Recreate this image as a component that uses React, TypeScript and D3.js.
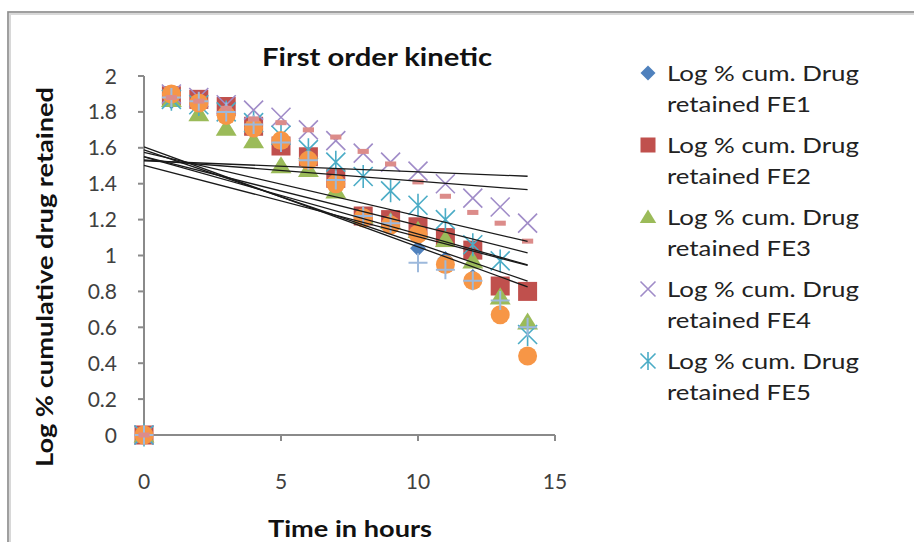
import React, { useEffect, useRef } from 'react';
import * as d3 from 'd3';

// time points (hours)
const hours = [0, 1, 2, 3, 4, 5, 6, 7, 8, 9, 10, 11, 12, 13, 14];

// log % cumulative drug retained
const fe1 = [0, 1.86, 1.85, 1.81, 1.72, 1.62, 1.53, 1.42, 1.22, 1.18, 1.04, 0.98, 0.88, 0.82, 0.8];
const fe2 = [0, 1.89, 1.87, 1.83, 1.72, 1.61, 1.55, 1.43, 1.22, 1.2, 1.16, 1.1, 1.03, 0.83, 0.8];
const fe3 = [0, 1.87, 1.79, 1.71, 1.64, 1.5, 1.48, 1.36, 1.22, 1.19, 1.14, 1.09, 0.97, 0.77, 0.63];
const fe4 = [0, 1.9, 1.88, 1.84, 1.81, 1.77, 1.7, 1.64, 1.57, 1.52, 1.47, 1.4, 1.32, 1.27, 1.18];
const fe5 = [0, 1.87, 1.84, 1.8, 1.74, 1.67, 1.59, 1.52, 1.44, 1.36, 1.28, 1.2, 1.06, 0.97, 0.56];
const fe6 = [0, 1.9, 1.85, 1.78, 1.71, 1.64, 1.53, 1.4, 1.21, 1.17, 1.12, 0.95, 0.86, 0.67, 0.44];
const fe7 = [0, 1.88, 1.86, 1.8, 1.73, 1.63, 1.53, 1.42, 1.22, 1.18, 0.96, 0.92, 0.86, 0.75, 0.6];
const fe8 = [0, 1.88, 1.86, 1.82, 1.76, 1.74, 1.7, 1.66, 1.58, 1.51, 1.41, 1.33, 1.24, 1.18, 1.08];

const seriesNames = ['FE1', 'FE2', 'FE3', 'FE4', 'FE5', 'FE6', 'FE7', 'FE8'];
const seriesValues = [fe1, fe2, fe3, fe4, fe5, fe6, fe7, fe8];
const seriesColors = ['#4F81BD', '#C0504D', '#9BBB59', '#A08CC8', '#4BACC6', '#F79646', '#9DB9DC', '#DC8C8A'];
const seriesMarkers = ['diamond', 'square', 'triangle', 'x', 'star', 'circle', 'plus', 'dash'];
const legendShown = 5; // legend box is cut off after FE5

const xTicks = [0, 5, 10, 15];
const yTicks = [0, 0.2, 0.4, 0.6, 0.8, 1, 1.2, 1.4, 1.6, 1.8, 2];

const FONT = 'Lato, "Open Sans", sans-serif';

// least squares line, the way Excel's linear trendline does it
const linearFit = (xs, ys) => {
    const mx = d3.mean(xs), my = d3.mean(ys);
    let num = 0, den = 0;
    xs.forEach((x, i) => {
        num += (x - mx) * (ys[i] - my);
        den += (x - mx) * (x - mx);
    });
    const slope = num / den;
    return { slope, intercept: my - slope * mx };
};

const drawMarker = (g, kind, color, s) => {
    // s = half size of the marker
    if (kind === 'diamond') {
        g.append('path').attr('d', `M0,${-s}L${s},0L0,${s}L${-s},0Z`).attr('fill', color);
    } else if (kind === 'square') {
        g.append('rect').attr('x', -s).attr('y', -s).attr('width', 2 * s).attr('height', 2 * s).attr('fill', color);
    } else if (kind === 'triangle') {
        g.append('path').attr('d', `M0,${-s}L${s * 1.1},${s * 0.8}L${-s * 1.1},${s * 0.8}Z`).attr('fill', color);
    } else if (kind === 'circle') {
        g.append('circle').attr('r', s).attr('fill', color);
    } else if (kind === 'x') {
        g.append('path').attr('d', `M${-s},${-s}L${s},${s}M${s},${-s}L${-s},${s}`)
            .attr('stroke', color).attr('stroke-width', 1.6).attr('fill', 'none');
    } else if (kind === 'star') {
        g.append('path').attr('d', `M${-s},${-s}L${s},${s}M${s},${-s}L${-s},${s}M0,${-s * 1.2}L0,${s * 1.2}`)
            .attr('stroke', color).attr('stroke-width', 1.6).attr('fill', 'none');
    } else if (kind === 'plus') {
        g.append('path').attr('d', `M${-s},0L${s},0M0,${-s}L0,${s}`)
            .attr('stroke', color).attr('stroke-width', 2).attr('fill', 'none');
    } else if (kind === 'dash') {
        g.append('rect').attr('x', -s * 0.7).attr('y', -2.5).attr('width', s * 1.4).attr('height', 5).attr('fill', color);
    }
};

const App = () => {
    const svgRef = useRef(null);

    useEffect(() => {
        const svg = d3.select(svgRef.current);
        svg.selectAll('*').remove();

        const x = d3.scaleLinear().domain([0, 15]).range([144, 555]);
        const y = d3.scaleLinear().domain([0, 2]).range([435, 76]);

        // chart frame
        svg.append('rect').attr('x', 9).attr('y', 13).attr('width', 940).attr('height', 560)
            .attr('fill', 'none').attr('stroke', '#d8d8d8').attr('stroke-width', 4);
        svg.append('rect').attr('x', 8).attr('y', 12).attr('width', 940).attr('height', 560)
            .attr('fill', 'none').attr('stroke', '#8c8c8c').attr('stroke-width', 1.5);

        // axes
        const axisColor = '#8a8a8a';
        svg.append('line').attr('x1', x(0)).attr('x2', x(0)).attr('y1', y(2)).attr('y2', y(0))
            .attr('stroke', axisColor).attr('stroke-width', 2);
        svg.append('line').attr('x1', x(0)).attr('x2', x(15)).attr('y1', y(0)).attr('y2', y(0))
            .attr('stroke', axisColor).attr('stroke-width', 2);

        yTicks.forEach(t => {
            svg.append('line').attr('x1', x(0) - 6).attr('x2', x(0)).attr('y1', y(t)).attr('y2', y(t))
                .attr('stroke', axisColor).attr('stroke-width', 2);
            svg.append('text').attr('x', 117).attr('y', y(t)).attr('dy', '0.36em')
                .attr('text-anchor', 'end').attr('font-family', FONT).attr('font-size', 21)
                .attr('fill', '#404040').text(t);
        });
        xTicks.forEach(t => {
            svg.append('line').attr('x1', x(t)).attr('x2', x(t)).attr('y1', y(0)).attr('y2', y(0) + 6)
                .attr('stroke', axisColor).attr('stroke-width', 2);
            svg.append('text').attr('x', x(t)).attr('y', 481).attr('dy', '0.36em')
                .attr('text-anchor', 'middle').attr('font-family', FONT).attr('font-size', 21)
                .attr('fill', '#404040').text(t);
        });

        // markers, first series at the bottom
        seriesValues.forEach((vals, si) => {
            const g = svg.append('g');
            vals.forEach((v, i) => {
                const m = g.append('g').attr('transform', `translate(${x(hours[i])},${y(v)})`);
                const half = seriesMarkers[si] === 'dash' ? 8 : seriesMarkers[si] === 'diamond' ? 8 : 9.5;
                drawMarker(m, seriesMarkers[si], seriesColors[si], half);
            });
        });

        // linear trendlines
        const tg = svg.append('g').attr('stroke', '#1a1a1a').attr('stroke-width', 1.3).attr('fill', 'none');
        seriesValues.forEach(vals => {
            const fit = linearFit(hours, vals);
            const t0 = hours[0], t1 = hours[hours.length - 1];
            tg.append('line')
                .attr('x1', x(t0)).attr('y1', y(fit.intercept + fit.slope * t0))
                .attr('x2', x(t1)).attr('y2', y(fit.intercept + fit.slope * t1));
        });

        // titles (the source image is a little stretched sideways, hence textLength)
        svg.append('text').attr('x', 377).attr('y', 57).attr('dy', '0.36em').attr('text-anchor', 'middle')
            .attr('font-family', FONT).attr('font-weight', 'bold').attr('font-size', 24)
            .attr('textLength', 230).attr('lengthAdjust', 'spacingAndGlyphs')
            .attr('fill', '#111').text('First order kinetic');
        svg.append('text').attr('transform', 'translate(45,277) rotate(-90)').attr('dy', '0.36em')
            .attr('text-anchor', 'middle').attr('font-family', FONT).attr('font-weight', 'bold')
            .attr('font-size', 23).attr('textLength', 380).attr('lengthAdjust', 'spacingAndGlyphs')
            .attr('fill', '#111').text('Log % cumulative drug retained');
        svg.append('text').attr('x', 350).attr('y', 537).attr('text-anchor', 'middle')
            .attr('font-family', FONT).attr('font-weight', 'bold').attr('font-size', 22)
            .attr('textLength', 164).attr('lengthAdjust', 'spacingAndGlyphs')
            .attr('fill', '#111').text('Time in hours');

        // legend
        const lg = svg.append('g');
        seriesNames.slice(0, legendShown).forEach((name, i) => {
            const cy = 73 + i * 72;
            const m = lg.append('g').attr('transform', `translate(648,${cy})`);
            drawMarker(m, seriesMarkers[i], seriesColors[i], 7.5);
            lg.append('text').attr('x', 667).attr('y', cy).attr('dy', '0.36em')
                .attr('font-family', FONT).attr('font-size', 22).attr('fill', '#222')
                .attr('textLength', 192).attr('lengthAdjust', 'spacingAndGlyphs')
                .text('Log % cum. Drug');
            lg.append('text').attr('x', 667).attr('y', cy + 31).attr('dy', '0.36em')
                .attr('font-family', FONT).attr('font-size', 22).attr('fill', '#222')
                .attr('textLength', 144).attr('lengthAdjust', 'spacingAndGlyphs')
                .text(`retained ${name}`);
        });
    }, []);

    return (
        <div style={{ position: 'absolute', left: 0, top: 0 }}>
            <svg ref={svgRef} width={914} height={542} style={{ display: 'block', background: '#fff' }}></svg>
        </div>
    );
};

export default App;
